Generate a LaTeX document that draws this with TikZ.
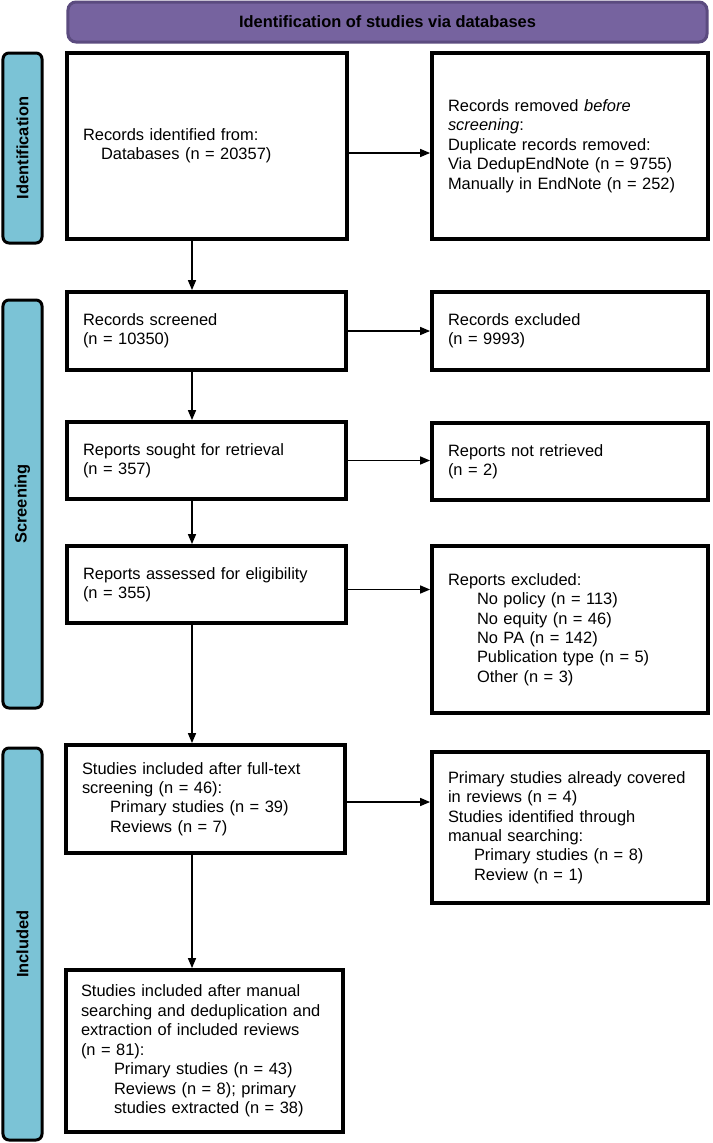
\documentclass[tikz,border=0pt]{standalone}
\usepackage{fontspec}
\setmainfont{Liberation Sans}
\usetikzlibrary{arrows.meta}
\definecolor{barblue}{HTML}{7BC3D6}
\definecolor{hdrfill}{HTML}{76639F}
\definecolor{hdrline}{HTML}{5B4B7F}
\newcommand\fs{\fontsize{16.5}{19.5}\selectfont}
\newcommand\ind[1]{\hspace*{#1}}
\begin{document}
\begin{tikzpicture}[x=1bp,y=-1bp,
  box/.style={draw=black, line width=3.8bp, fill=white, align=left, inner ysep=0pt,
    inner xsep=16bp, outer sep=0pt, font=\fs, anchor=north west},
  sidebar/.style={draw=black, line width=3bp, fill=barblue, rounded corners=6bp,
    rotate=90, outer sep=0pt, font=\fs\bfseries, minimum height=39bp},
  hdr/.style={draw=hdrline, line width=3bp, fill=hdrfill, rounded corners=8bp,
    outer sep=0pt, font=\fs\bfseries},
  arr/.style={line width=1.5bp, -{Triangle[length=10bp,width=8bp]}, shorten >=1.9bp}]
\useasboundingbox (0,0) rectangle (713,1143);
\fill[white] (0,0) rectangle (713,1143);

% header
\node[hdr, minimum width=639bp, minimum height=40bp] (hdr) at (387.5,22) {Identification of studies via databases};

% side bars
\node[sidebar, minimum width=190bp] (sid) at (22.5,148) {Identification};
\node[sidebar, minimum width=408bp] (sscr) at (22.5,504) {Screening};
\node[sidebar, minimum width=392bp] (sinc) at (22.5,944) {Included};

% boxes
\node[box, minimum width=280bp, minimum height=186bp, text width=248bp] (b1) at (67,53)
  {Records identified from:\\ \ind{18bp}Databases (n = 20357)};
\node[box, minimum width=276bp, minimum height=186bp, text width=244bp] (b2) at (432,53)
  {Records removed \textit{before}\\ \textit{screening}:\\ Duplicate records removed:\\ Via DedupEndNote (n = 9755)\\ Manually in EndNote (n = 252)};
\node[box, minimum width=279bp, minimum height=78bp, text width=247bp] (b3) at (67,292)
  {Records screened\\ (n = 10350)};
\node[box, minimum width=276bp, minimum height=78bp, text width=244bp] (b4) at (432,292)
  {Records excluded\\ (n = 9993)};
\node[box, minimum width=279bp, minimum height=77bp, text width=247bp] (b5) at (67,422)
  {Reports sought for retrieval\\ (n = 357)};
\node[box, minimum width=276bp, minimum height=77bp, text width=244bp] (b6) at (432,423)
  {Reports not retrieved\\ (n = 2)};
\node[box, minimum width=279bp, minimum height=77bp, text width=247bp] (b7) at (67,546)
  {Reports assessed for eligibility\\ (n = 355)};
\node[box, minimum width=276bp, minimum height=167bp, text width=244bp] (b8) at (432,546)
  {Reports excluded:\\ \ind{29bp}No policy (n = 113)\\ \ind{29bp}No equity (n = 46)\\ \ind{29bp}No PA (n = 142)\\ \ind{29bp}Publication type (n = 5)\\ \ind{29bp}Other (n = 3)};
\node[box, minimum width=279bp, minimum height=108bp, text width=247bp, inner xsep=15bp] (b9) at (66,745)
  {Studies included after full-text\\ screening (n = 46):\\ \ind{28bp}Primary studies (n = 39)\\ \ind{28bp}Reviews (n = 7)};
\node[box, minimum width=276bp, minimum height=151bp, text width=244bp] (b10) at (432,752)
  {Primary studies already covered\\ in reviews (n = 4)\\ Studies identified through\\ manual searching:\\ \ind{26bp}Primary studies (n = 8)\\ \ind{26bp}Review (n = 1)};
\node[box, minimum width=277bp, minimum height=162bp, text width=247bp, inner xsep=15bp] (b11) at (66,970)
  {Studies included after manual\\ searching and deduplication and\\ extraction of included reviews\\ (n = 81):\\ \ind{33bp}Primary studies (n = 43)\\ \ind{33bp}Reviews (n = 8); primary\\ \ind{33bp}studies extracted (n = 38)};

% arrows
\coordinate (xa) at (192,0);
\draw[arr] (b1.south -| xa) -- (b3.north -| xa);
\draw[arr] (b3.south -| xa) -- (b5.north -| xa);
\draw[arr] (b5.south -| xa) -- (b7.north -| xa);
\draw[arr] (b7.south -| xa) -- (b9.north -| xa);
\draw[arr] (b9.south -| xa) -- (b11.north -| xa);

\draw[arr] ([yshift=-7bp]b1.east) -- ([yshift=-7bp]b1.east -| b2.west);
\draw[arr] (b3.east) -- (b3.east -| b4.west);
\draw[arr] (b5.east) -- (b5.east -| b6.west);
\draw[arr] ([yshift=-5bp]b7.east) -- ([yshift=-5bp]b7.east -| b8.west);
\draw[arr] ([yshift=-3bp]b9.east) -- ([yshift=-3bp]b9.east -| b10.west);
\end{tikzpicture}
\end{document}
